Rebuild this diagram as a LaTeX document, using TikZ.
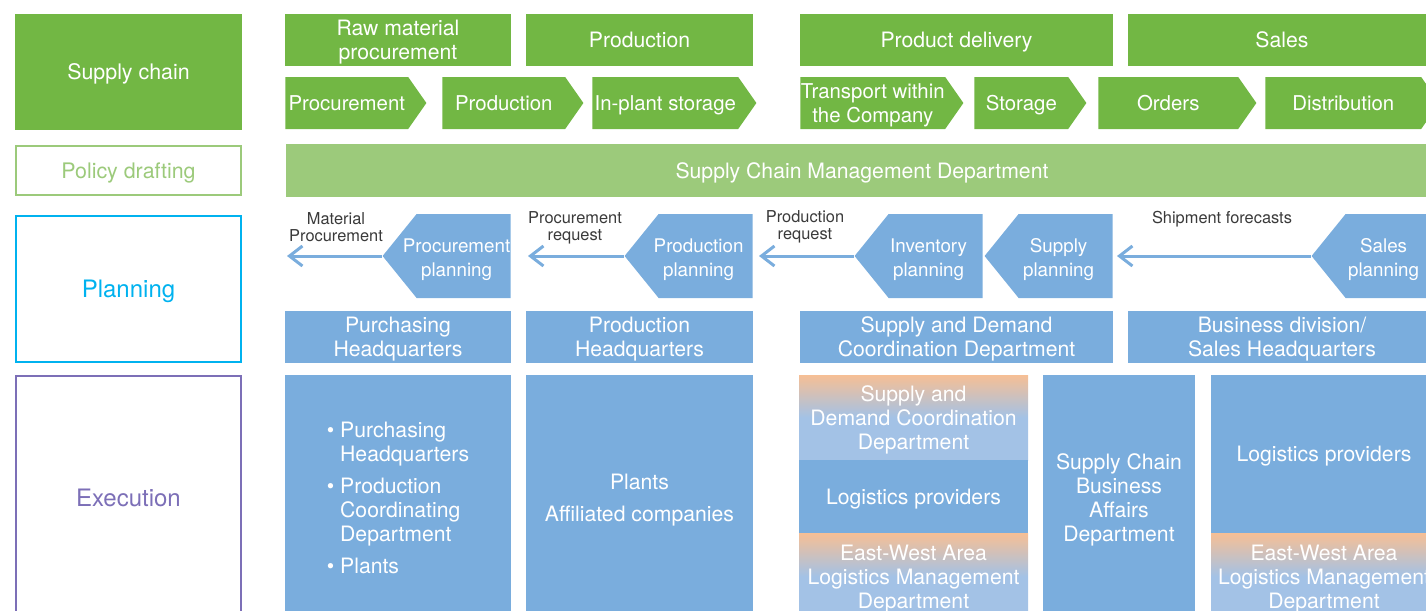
\documentclass[tikz,border=0pt]{standalone}
\usepackage{fontspec}
\setmainfont{TeX Gyre Heros}
\usepackage{xcolor}
\usetikzlibrary{arrows.meta,positioning,shapes.symbols}

\definecolor{scgreen}{HTML}{72B744}
\definecolor{sclight}{HTML}{9CCA7B}
\definecolor{scblue}{HTML}{7AADDD}
\definecolor{scpale}{HTML}{A3C2E6}
\definecolor{scorange}{HTML}{F6BF95}
\definecolor{sccyan}{HTML}{00B2EF}
\definecolor{scpurple}{HTML}{7C6FB7}
\definecolor{sclabel}{HTML}{3A3A3A}

\newcommand\boxfont{\fontsize{10.6}{12}\selectfont}
\newcommand\chevfont{\fontsize{10.2}{12}\selectfont}
\newcommand\planfont{\fontsize{9.4}{12}\selectfont}
\newcommand\lblfont{\fontsize{8.2}{8.6}\selectfont}
\newcommand\levelfont{\fontsize{10.7}{12}\selectfont}
\newcommand\bigfont{\fontsize{12}{14}\selectfont}
% two lines, pushed a little towards the point
\newcommand\planlines[2]{\begin{tabular}{@{}c@{}}#1\\#2\end{tabular}\hspace{7pt}}

\tikzset{
  box/.style={rectangle, inner sep=0pt, align=center, text=white, font=\boxfont, text depth=0pt},
  greenbox/.style={box, fill=scgreen},
  bluebox/.style={box, fill=scblue},
  fadebox/.style={box, top color=scorange, bottom color=scpale, middle color=scpale},
  chevron/.style={box, shape=signal, signal from=nowhere, signal to=east, font=\chevfont,
    inner xsep=-2pt, signal pointer angle=110, fill=scgreen, minimum height=26pt, anchor=west},
  planbox/.style={box, shape=signal, signal from=nowhere, signal to=west, font=\planfont,
    text depth=6.5pt, inner xsep=-7pt, signal pointer angle=102, fill=scblue,
    minimum height=42pt, minimum width=64pt, anchor=east},
  levelbox/.style={rectangle, draw=#1, line width=1pt, text=#1, text depth=0pt,
    minimum width=112.5pt, inner sep=0pt},
  flow/.style={draw=scblue, line width=1.5pt, -{Straight Barb[length=6.5pt,width=10pt]}},
  flowlabel/.style={align=center, text=sclabel, font=\lblfont, inner sep=0pt}
}

\begin{document}
\begin{tikzpicture}[x=0.5pt,y=-0.5pt]
    \useasboundingbox (0,0) rectangle (1426,611);
    \clip (0,0) rectangle (1426,611);

    % left column
    \node[greenbox, font=\levelfont, minimum width=113.5pt, minimum height=58pt] (chain) at (128.5,72) {Supply chain};
    \node[levelbox=sclight, font=\levelfont, minimum height=24.5pt] (policy) at (128.5,170.5) {Policy drafting};
    \node[levelbox=sccyan, font=\bigfont, minimum height=73pt] (planning) at (128.5,289) {Planning};
    \node[levelbox=scpurple, font=\bigfont, minimum height=121.5pt] (execution) at (128.5,497.5) {Execution};

    % supply chain stages
    \node[greenbox, minimum width=113pt, minimum height=26pt] (raw) at (398,40) {Raw material\\procurement};
    \node[greenbox, minimum width=113.5pt, minimum height=26pt] (prod) at (639.5,40) {Production};
    \node[greenbox, minimum width=156.5pt, minimum height=26pt] (delivery) at (956.5,40) {Product delivery};
    \node[greenbox, minimum width=154pt, minimum height=26pt] (sales) at (1282,40) {Sales};

    \node[chevron, minimum width=70.5pt] (procure) at (285,103) {Procurement};
    \node[chevron, minimum width=70.5pt] (making) at (442,103) {Production};
    \node[chevron, minimum width=82pt] (inplant) at (592,103) {In-plant storage};
    \node[chevron, minimum width=81.5pt] (transport) at (800,103) {Transport within\\the Company};
    \node[chevron, minimum width=56pt] (storage) at (974,103) {Storage};
    \node[chevron, minimum width=79pt] (orders) at (1098,103) {Orders};
    \node[chevron, minimum width=87pt] (distrib) at (1265,103) {Distribution};

    % policy drafting
    \node[box, fill=sclight, minimum width=576pt, minimum height=26.5pt] (scm) at (862,170.5) {Supply Chain Management Department};

    % planning
    \node[planbox] (procplan) at (511,256) {\planlines{Procurement}{planning}};
    \node[planbox] (prodplan) at (753,256) {\planlines{Production}{planning}};
    \node[planbox] (invplan) at (983,256) {\planlines{Inventory}{planning}};
    \node[planbox] (suppplan) at (1113,256) {\planlines{Supply}{planning}};
    \node[planbox, minimum width=62pt] (salesplan) at (1436,256) {\planlines{Sales}{planning}};

    \coordinate (matend) at (287,256);
    \coordinate (reqend) at (528,256);
    \coordinate (prodend) at (759,256);

    \draw[flow] (procplan.west) -- (matend);
    \draw[flow] (prodplan.west) -- (reqend);
    \draw[flow] (invplan.west) -- (prodend);
    \draw[flow, shorten >=2pt] (salesplan.west) -- (suppplan.east);

    \node[flowlabel] (matlbl) at (336,227) {Material\\Procurement};
    \node[flowlabel] (reqlbl) at (575,228) {Procurement\\request};
    \node[flowlabel] (prodlbl) at (805,227) {Production\\request};
    \node[flowlabel] (shiplbl) at (1222,219) {Shipment forecasts};

    \node[bluebox, minimum width=113pt, minimum height=26pt] (purchhq) at (398,337) {Purchasing\\Headquarters};
    \node[bluebox, minimum width=113.5pt, minimum height=26pt] (prodhq) at (639.5,337) {Production\\Headquarters};
    \node[bluebox, minimum width=156.5pt, minimum height=26pt] (sdcd) at (956.5,337) {Supply and Demand\\Coordination Department};
    \node[bluebox, minimum width=154pt, minimum height=26pt] (bizhq) at (1282,337) {Business division/\\Sales Headquarters};

    % execution
    \node[bluebox, align=left, minimum width=113pt, minimum height=122.5pt] (purchexec) at (398,497.5)
      {\textbullet\ Purchasing\\\hphantom{\textbullet\ }Headquarters\\[4pt]
       \textbullet\ Production\\\hphantom{\textbullet\ }Coordinating\\\hphantom{\textbullet\ }Department\\[4pt]
       \textbullet\ Plants};
    \node[bluebox, minimum width=113.5pt, minimum height=122.5pt] (plants) at (639.5,497.5) {Plants\\[4pt]Affiliated companies};

    \node[fadebox, minimum width=114.5pt, minimum height=42.5pt] (sdcdexec) at (913.5,417.5) {Supply and\\Demand Coordination\\Department};
    \node[bluebox, minimum width=114.5pt, minimum height=36.5pt] (logi) at (913.5,496.5) {Logistics providers};
    \node[fadebox, minimum width=114.5pt, minimum height=43.5pt] (ewarea) at (913.5,576.5) {East-West Area\\Logistics Management\\Department};

    \node[bluebox, minimum width=76pt, minimum height=122.5pt] (scbad) at (1119,497.5) {Supply Chain\\Business\\Affairs\\Department};

    \node[bluebox, minimum width=113pt, minimum height=79pt] (logisales) at (1324,454) {Logistics providers};
    \node[fadebox, minimum width=113pt, minimum height=43.5pt] (ewsales) at (1324,576.5) {East-West Area\\Logistics Management\\Department};
\end{tikzpicture}
\end{document}
